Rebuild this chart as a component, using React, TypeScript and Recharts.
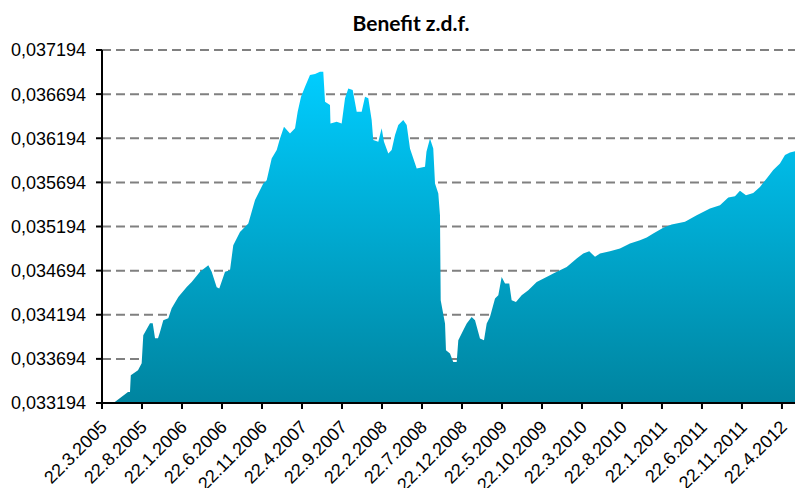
import React from "react";
import { AreaChart, Area, XAxis, YAxis, CartesianGrid } from "recharts";

// months since 22.3.2005 (x position on the date axis)
const months = [
  1.6, 3.25, 3.5, 3.6, 4.5, 4.96, 5.16, 6.0, 6.34, 6.63, 7.0, 7.25, 7.66, 8.29,
  8.71, 9.54, 10.59, 11.21, 12.25, 13.29, 13.71, 14.34, 14.66, 15.38, 16.0,
  16.41, 17.25, 18.29, 19.13, 20.16, 20.59, 21.21, 21.84, 22.25, 22.75, 23.5,
  24.13, 24.46, 24.88, 25.38, 26.0, 26.63, 27.25, 27.66, 27.88, 28.5, 28.56,
  29.34, 29.96, 30.38, 30.79, 31.34, 31.84, 32.46, 32.88, 33.29, 33.71, 33.91,
  34.54, 34.96, 35.25, 35.79, 36.21, 36.63, 37.04, 37.66, 38.09, 38.5, 39.13,
  39.34, 40.38, 40.56, 41.0, 41.41, 41.63, 42.04, 42.25, 42.34, 42.88, 43.0,
  43.5, 43.91, 44.34, 44.54, 45.16, 45.59, 46.21, 46.63, 47.25, 47.75, 48.09,
  48.5, 49.13, 49.54, 49.96, 50.38, 50.91, 51.21, 51.75, 52.46, 53.29, 54.34,
  56.0, 56.41, 58.09, 59.34, 60.16, 60.91, 61.63, 62.25, 63.5, 64.75, 66.0,
  67.25, 68.09, 68.91, 70.16, 71.21, 72.88, 74.34, 76.0, 77.25, 78.29, 79.13,
  79.75, 80.5, 81.41, 82.25, 83.09, 83.91, 84.75, 85.38, 86.0, 86.63,
];

const benefit = [
  0.033205, 0.033319, 0.03332, 0.033508, 0.033565, 0.033644, 0.033962,
  0.034098, 0.034098, 0.033928, 0.033928, 0.033999, 0.034132, 0.034154,
  0.034268, 0.034396, 0.034509, 0.034566, 0.03468, 0.034755, 0.03468, 0.034506,
  0.034491, 0.03468, 0.034699, 0.034982, 0.035133, 0.035228, 0.035493,
  0.035682, 0.035719, 0.035965, 0.03606, 0.036192, 0.036324, 0.036249,
  0.036306, 0.036494, 0.036664, 0.036777, 0.03691, 0.036921, 0.036948,
  0.036948, 0.036607, 0.03657, 0.036362, 0.036381, 0.036362, 0.036646,
  0.036759, 0.03674, 0.036494, 0.036494, 0.036664, 0.036646, 0.0364, 0.036173,
  0.036154, 0.036306, 0.036154, 0.036022, 0.03606, 0.03623, 0.036343, 0.0364,
  0.036343, 0.036079, 0.035909, 0.035852, 0.03587, 0.03604, 0.036192,
  0.036079, 0.035682, 0.035569, 0.035322, 0.034359, 0.034094, 0.033792,
  0.033754, 0.033659, 0.033659, 0.033905, 0.034018, 0.034094, 0.034169,
  0.034132, 0.033924, 0.033905, 0.034094, 0.034169, 0.034378, 0.034415,
  0.034623, 0.034548, 0.034548, 0.034359, 0.034339, 0.034415, 0.034472,
  0.034566, 0.034642, 0.034661, 0.034736, 0.034831, 0.034888, 0.034914,
  0.03485, 0.034888, 0.034914, 0.034945, 0.035002, 0.035039, 0.03507,
  0.035115, 0.035179, 0.035217, 0.035247, 0.035322, 0.035398, 0.035436,
  0.035523, 0.035538, 0.035598, 0.035549, 0.035575, 0.035643, 0.035739,
  0.035833, 0.035909, 0.036003, 0.036033, 0.036048,
];

const xTicks = [0, 5, 10, 15, 20, 25, 30, 35, 40, 45, 50, 55, 60, 65, 70, 75, 80, 85];
const xLabels = [
  "22.3.2005", "22.8.2005", "22.1.2006", "22.6.2006", "22.11.2006", "22.4.2007",
  "22.9.2007", "22.2.2008", "22.7.2008", "22.12.2008", "22.5.2009", "22.10.2009",
  "22.3.2010", "22.8.2010", "22.1.2011", "22.6.2011", "22.11.2011", "22.4.2012",
];
const yTicks = [
  0.033194, 0.033694, 0.034194, 0.034694, 0.035194, 0.035694, 0.036194,
  0.036694, 0.037194,
];

const data = months.map((m, i) => ({ m, v: benefit[i] }));

const FONT = "'Liberation Sans', Arial, sans-serif";

function XTick({ x, y, payload }: { x?: number; y?: number; payload?: { value: number } }) {
  const idx = xTicks.indexOf(payload?.value ?? -1);
  return (
    <g transform={`translate(${(x ?? 0) - 3},${(y ?? 0) + 8})`}>
      <text
        x={0}
        y={0}
        dy="0.72em"
        textAnchor="end"
        transform="rotate(-45)"
        fill="#000"
        fontSize={18}
        fontFamily={FONT}
      >
        {xLabels[idx]}
      </text>
    </g>
  );
}

export default function App() {
  return (
    <div
      style={{
        position: "absolute",
        left: 0,
        top: 0,
        width: 795,
        height: 488,
        background: "#fff",
        overflow: "hidden",
      }}
    >
      <div
        style={{
          position: "absolute",
          left: 300,
          top: 12,
          width: 222,
          textAlign: "center",
          fontFamily: "Lato, 'Open Sans', sans-serif",
          fontWeight: 700,
          fontSize: 21,
          lineHeight: "22px",
          color: "#000",
        }}
      >
        Benefit z.d.f.
      </div>
      <AreaChart
        width={795}
        height={488}
        data={data}
        margin={{ top: 50, right: 0, bottom: 0, left: 0 }}
      >
        <defs>
          <linearGradient id="benefitFill" x1="0" y1="0" x2="0" y2="1">
            <stop offset="0%" stopColor="#00CDFF" />
            <stop offset="100%" stopColor="#00849F" />
          </linearGradient>
        </defs>
        <CartesianGrid
          vertical={false}
          stroke="#808080"
          strokeWidth={2}
          strokeDasharray="9 5"
        />
        <XAxis
          dataKey="m"
          type="number"
          domain={[0, 86.63]}
          ticks={xTicks}
          interval={0}
          allowDataOverflow
          height={85}
          tickSize={6}
          tickMargin={2}
          axisLine={{ stroke: "#000", strokeWidth: 2 }}
          tickLine={{ stroke: "#000", strokeWidth: 2 }}
          tick={<XTick />}
        />
        <YAxis
          type="number"
          domain={[0.033194, 0.037194]}
          ticks={yTicks}
          interval={0}
          allowDataOverflow
          width={102}
          tickSize={6}
          tickMargin={10}
          axisLine={{ stroke: "#000", strokeWidth: 2 }}
          tickLine={{ stroke: "#000", strokeWidth: 2 }}
          tick={{ fill: "#000", fontSize: 18, fontFamily: FONT }}
          tickFormatter={(v: number) => v.toFixed(6).replace(".", ",")}
        />
        <Area
          type="linear"
          dataKey="v"
          stroke="none"
          fill="url(#benefitFill)"
          fillOpacity={1}
          baseValue={0.033194}
          dot={false}
          activeDot={false}
          isAnimationActive={false}
        />
      </AreaChart>
    </div>
  );
}
